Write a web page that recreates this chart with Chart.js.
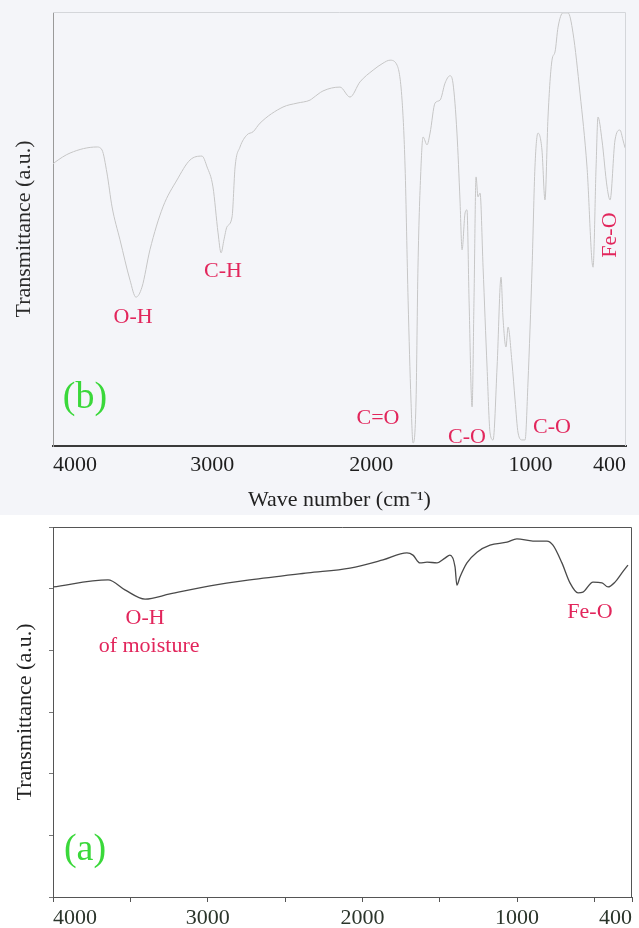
<!DOCTYPE html>
<html>
<head>
<meta charset="utf-8">
<script src="https://cdn.jsdelivr.net/npm/chart.js@4.4.1/dist/chart.umd.min.js"></script>
<style>
  body { margin: 0; background: #fff; }
  #wrap { position: relative; width: 639px; height: 928px; }
  #topChart { position: absolute; left: 0; top: 0; background: #f4f5f9; }
  #bottomChart { position: absolute; left: 0; top: 515px; background: #fff; }
</style>
</head>
<body>
<div id="wrap">
  <canvas id="topChart" width="639" height="515"></canvas>
  <canvas id="bottomChart" width="639" height="413"></canvas>
</div>
<script>
// (b) spectrum - wave number (cm-1) and transmittance (a.u., 0-100)
const topWavenumber = [4000, 3987, 3893, 3724, 3692, 3661, 3629, 3579, 3516, 3479,
  3441, 3391, 3309, 3221, 3139, 3064, 3032, 2995, 2963, 2944,
  2926, 2907, 2875, 2856, 2825, 2781, 2743, 2699, 2555, 2467,
  2385, 2366, 2304, 2197, 2134, 2071, 1989, 1927, 1883, 1839,
  1807, 1788, 1769, 1751, 1738, 1719, 1707, 1688, 1675, 1650,
  1631, 1600, 1568, 1537, 1506, 1487, 1462, 1443, 1430, 1411,
  1399, 1386, 1367, 1355, 1342, 1330, 1317, 1298, 1273, 1254,
  1235, 1210, 1185, 1173, 1154, 1141, 1116, 1097, 1078, 1053,
  1034, 1016, 990, 972, 953, 928, 909, 890, 865, 846,
  827, 796, 764, 733, 689, 645, 607, 588, 576, 551,
  519, 500, 469, 438, 419, 406];
const topTransmittance = [65.0, 65.4, 67.5, 68.9, 68.2, 62.9, 55.1, 47.5, 38.2, 34.3,
  36.6, 45.2, 55.1, 61.3, 65.9, 66.8, 64.3, 59.7, 49.1, 44.5,
  47.5, 50.5, 52.8, 64.3, 68.9, 71.7, 72.4, 74.4, 78.1, 79.0,
  79.7, 80.2, 81.8, 82.7, 80.4, 83.9, 86.6, 88.2, 88.9, 87.8,
  79.7, 64.3, 33.6, 10.6, 0.7, 10.6, 41.2, 64.3, 71.2, 69.4,
  72.1, 79.0, 79.7, 83.6, 85.3, 83.6, 72.1, 56.7, 45.2, 53.7,
  54.4, 33.6, 9.0, 33.6, 62.0, 57.4, 58.3, 41.2, 18.2, 3.0,
  1.4, 18.2, 38.9, 29.7, 22.8, 27.4, 19.1, 10.6, 3.0, 1.4,
  1.4, 14.5, 41.2, 64.3, 72.1, 68.2, 56.7, 75.8, 88.9, 90.8,
  96.5, 99.8, 99.8, 95.2, 81.3, 64.3, 41.2, 64.3, 75.8, 70.5,
  59.7, 56.7, 70.5, 72.8, 70.5, 68.7];

// (a) spectrum
const bottomWavenumber = [4000, 3644, 3535, 3405, 3244, 2985, 2727, 2352, 2080, 1867,
  1712, 1673, 1628, 1582, 1518, 1466, 1434, 1401, 1389, 1369,
  1324, 1259, 1175, 1065, 1001, 897, 807, 768, 710, 658,
  606, 574, 509, 451, 412, 367, 322, 283];
const bottomTransmittance = [83.8, 85.7, 83.0, 80.5, 81.9, 84.1, 85.7, 87.6, 88.9, 91.1,
  93.0, 92.4, 90.3, 90.5, 90.3, 91.6, 92.4, 89.2, 84.3, 86.5,
  90.3, 93.2, 95.1, 95.9, 96.8, 96.2, 96.2, 95.1, 90.3, 84.9,
  82.2, 82.4, 85.1, 84.9, 83.8, 85.1, 87.6, 89.7];

// tick labels
const topTicks = [400, 1000, 2000, 3000, 4000];
const bottomTicks = [257, 500, 1000, 1500, 2000, 2500, 3000, 3500, 4000];
const bottomLabelled = [1000, 2000, 3000, 4000];
const bottomEnd = 257; // right edge of panel (a), labelled "400" in the figure

// band labels (placed in data coordinates)
const topBands = [
  { text: "O-H", wn: 3497, t: 29.7 },
  { text: "C-H", wn: 2932, t: 40.3 },
  { text: "C=O", wn: 1958, t: 6.5 },
  { text: "C-O", wn: 1399, t: 2.1 },
  { text: "C-O", wn: 865, t: 4.4 },
  { text: "Fe-O", wn: 500, t: 48.6, rotate: true },
  { text: "(b)", wn: 3799, t: 11.1, big: true }
];
const bottomBands = [
  { text: "O-H", wn: 3405, t: 75.4 },
  { text: "of moisture", wn: 3379, t: 67.8 },
  { text: "Fe-O", wn: 529, t: 77.0 },
  { text: "(a)", wn: 3793, t: 12.7, big: true }
];

const serif = "'Liberation Serif', 'Times New Roman', serif";
Chart.defaults.font.family = serif;

const decorations = {
  id: "decorations",
  afterDraw(chart, args, opts) {
    const { ctx, chartArea: a, scales: { x, y } } = chart;
    ctx.save();
    // top and right edges of the frame
    if (opts.frame) {
      ctx.strokeStyle = opts.frame;
      ctx.lineWidth = 1;
      ctx.beginPath();
      ctx.moveTo(a.left, a.top + 0.5);
      ctx.lineTo(a.right - 0.5, a.top + 0.5);
      ctx.lineTo(a.right - 0.5, a.bottom);
      ctx.stroke();
    }
    ctx.textAlign = "center";
    ctx.textBaseline = "middle";
    (opts.bands || []).forEach(b => {
      const px = x.getPixelForValue(b.wn);
      const py = y.getPixelForValue(b.t);
      ctx.fillStyle = b.big ? "#3ad83a" : "#e2265c";
      ctx.font = (b.big ? "38px " : "22px ") + serif;
      if (b.rotate) {
        ctx.save();
        ctx.translate(px, py);
        ctx.rotate(-Math.PI / 2);
        ctx.fillText(b.text, 0, 0);
        ctx.restore();
      } else {
        ctx.fillText(b.text, px, py);
      }
    });
    ctx.restore();
  }
};

function points(xs, ys) {
  return xs.map((v, i) => ({ x: v, y: ys[i] }));
}

// Top panel (b)
new Chart(document.getElementById("topChart"), {
  type: "line",
  data: {
    datasets: [{
      data: points(topWavenumber, topTransmittance),
      borderColor: "#c6c6c6",
      borderWidth: 1,
      pointRadius: 0,
      cubicInterpolationMode: "monotone",
      fill: false
    }]
  },
  options: {
    responsive: false,
    animation: false,
    devicePixelRatio: 1,
    layout: { padding: { top: 12, right: 13, left: 0, bottom: 0 } },
    plugins: {
      legend: { display: false },
      tooltip: { enabled: false },
      decorations: { frame: "#d4d6da", bands: topBands }
    },
    scales: {
      x: {
        type: "linear",
        reverse: true,
        min: 400,
        max: 4000,
        afterBuildTicks: s => { s.ticks = topTicks.map(v => ({ value: v })); },
        afterFit: s => { s.height = 69; },
        grid: { display: false, drawTicks: false },
        border: { display: true, color: "#3a3a3a", width: 2 },
        ticks: {
          align: "inner",
          autoSkip: false,
          maxRotation: 0,
          padding: 6,
          color: "#1e1e1e",
          font: { size: 22 },
          callback: v => String(v)
        },
        title: {
          display: true,
          text: "Wave number (cm\u207B\u00B9)",
          color: "#222",
          font: { size: 22 },
          padding: { top: 0, bottom: 2 }
        }
      },
      y: {
        min: 0,
        max: 100,
        afterFit: s => { s.width = 53; },
        grid: { display: false, drawTicks: false },
        border: { display: true, color: "#9a9a9a", width: 1 },
        ticks: { display: false },
        title: {
          display: true,
          text: "Transmittance (a.u.)",
          color: "#2a2a2a",
          font: { size: 22 },
          padding: { top: 11, bottom: 0 }
        }
      }
    }
  },
  plugins: [decorations]
});

// Bottom panel (a)
new Chart(document.getElementById("bottomChart"), {
  type: "line",
  data: {
    datasets: [{
      data: points(bottomWavenumber, bottomTransmittance),
      borderColor: "#4a4a4a",
      borderWidth: 1.3,
      pointRadius: 0,
      cubicInterpolationMode: "monotone",
      fill: false
    }]
  },
  options: {
    responsive: false,
    animation: false,
    devicePixelRatio: 1,
    layout: { padding: { top: 12, right: 7, left: 0, bottom: 0 } },
    plugins: {
      legend: { display: false },
      tooltip: { enabled: false },
      decorations: { frame: "#555", bands: bottomBands }
    },
    scales: {
      x: {
        type: "linear",
        reverse: true,
        min: bottomEnd,
        max: 4000,
        afterBuildTicks: s => { s.ticks = bottomTicks.map(v => ({ value: v })); },
        afterFit: s => { s.height = 31; },
        grid: { display: true, drawOnChartArea: false, drawTicks: true, tickLength: 5, color: "#555" },
        border: { display: true, color: "#555", width: 1 },
        ticks: {
          align: "inner",
          autoSkip: false,
          maxRotation: 0,
          padding: 3,
          color: "#2b352b",
          font: { size: 22 },
          callback: v => v === bottomEnd ? "400" : (bottomLabelled.includes(v) ? String(v) : "")
        }
      },
      y: {
        min: 0,
        max: 100,
        afterBuildTicks: s => { s.ticks = [0, 1, 2, 3, 4, 5, 6].map(i => ({ value: i * 100 / 6 })); },
        afterFit: s => { s.width = 53; },
        grid: { display: true, drawOnChartArea: false, drawTicks: true, tickLength: 4, color: "#777" },
        border: { display: true, color: "#555", width: 1 },
        ticks: { display: false },
        title: {
          display: true,
          text: "Transmittance (a.u.)",
          color: "#222",
          font: { size: 22 },
          padding: { top: 12, bottom: 0 }
        }
      }
    }
  },
  plugins: [decorations]
});
</script>
</body>
</html>
